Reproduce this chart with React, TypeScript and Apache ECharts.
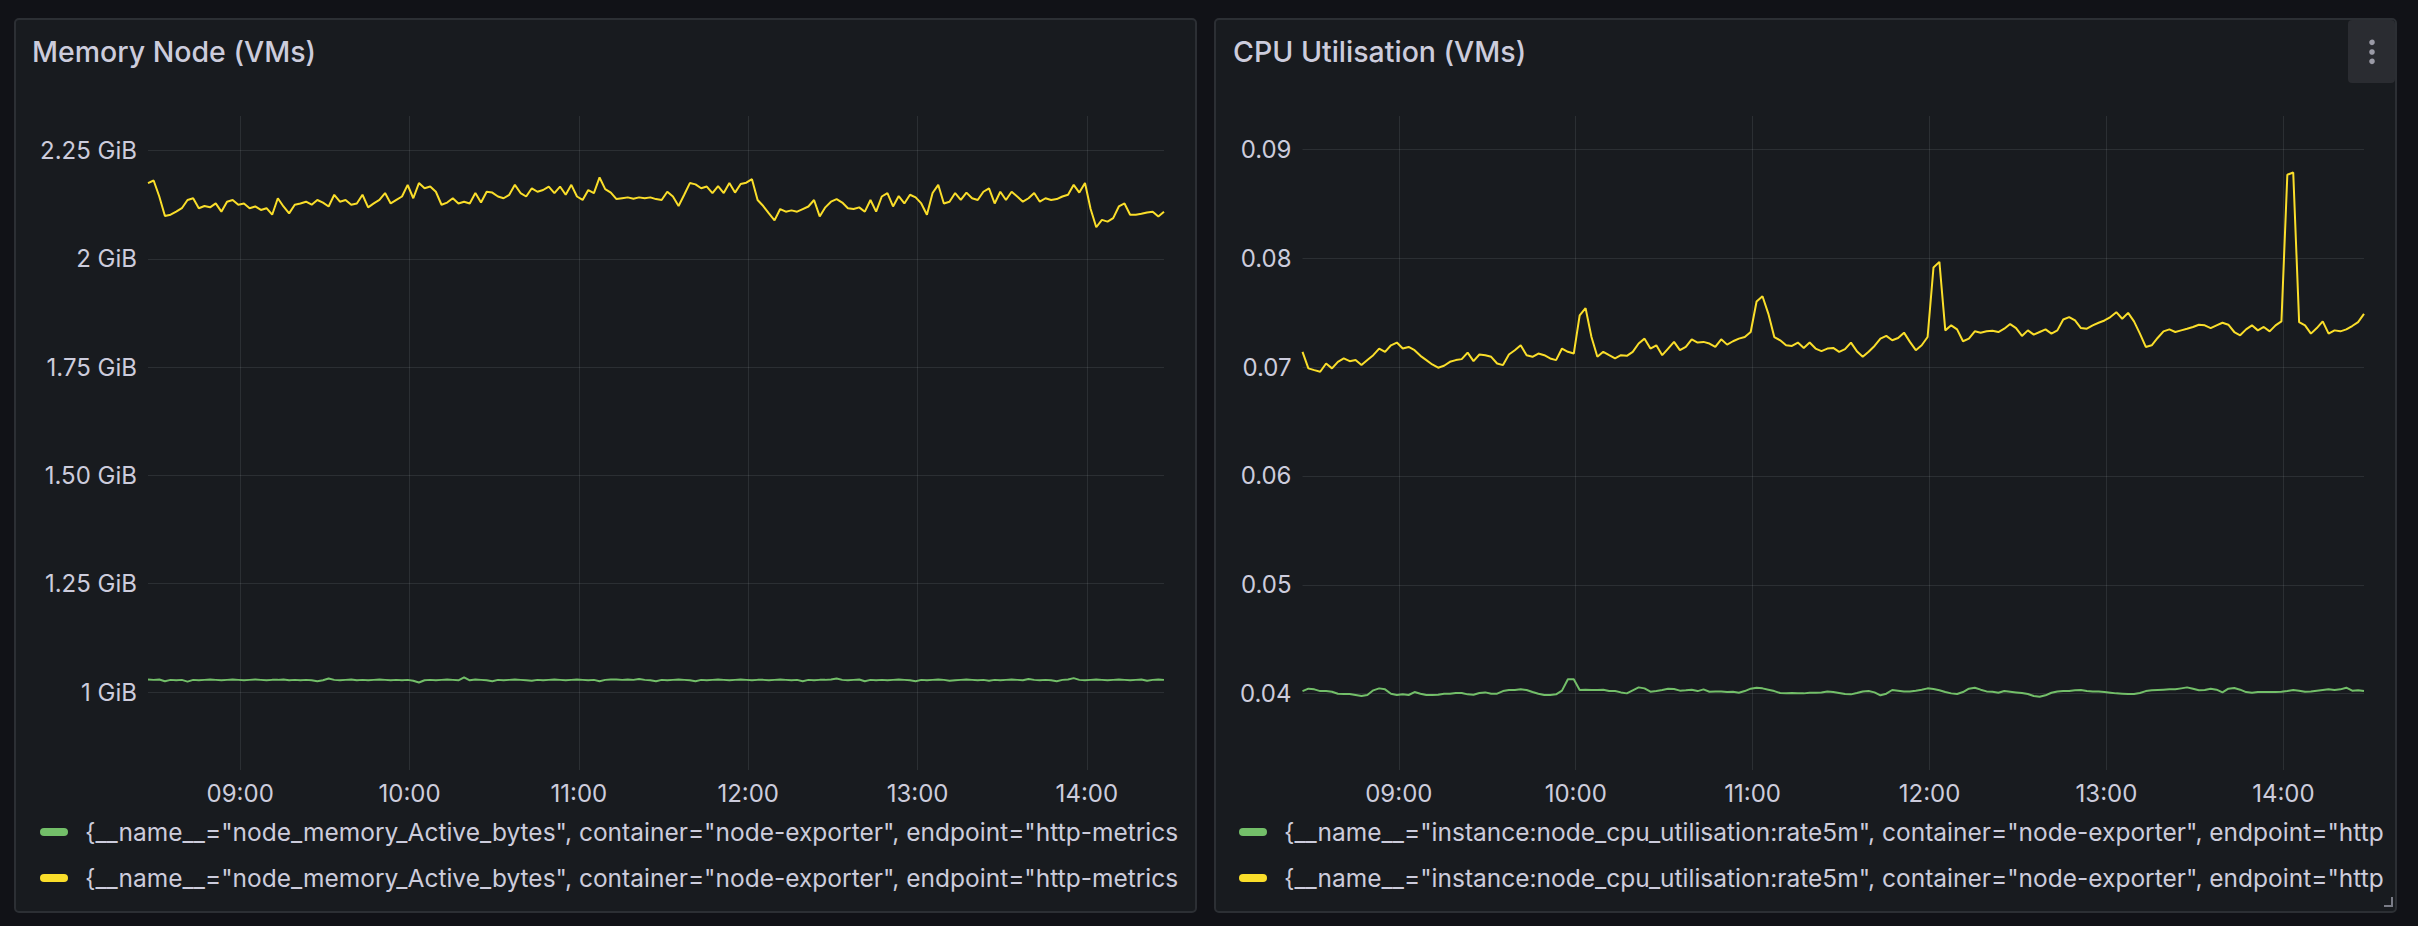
import React, { useEffect, useRef } from "react";
import * as echarts from "echarts";

// ---- time axis (2-minute samples over 6 hours) ----
const START = Date.UTC(2024, 0, 15, 8, 27, 20);
const STEP_MS = 120000;
const END = START + 180 * STEP_MS;

// ---- titles / legends ----
const MEM_TITLE = "Memory Node (VMs)";
const CPU_TITLE = "CPU Utilisation (VMs)";
// visible (clipped) part of the legend labels
const MEM_LEGEND_TEXT = '{__name__="node_memory_Active_bytes", container="node-exporter", endpoint="http-metrics';
const CPU_LEGEND_TEXT = '{__name__="instance:node_cpu_utilisation:rate5m", container="node-exporter", endpoint="http';
// series ids (two instances each)
const MEM_SERIES = ["node_memory_Active_bytes#1", "node_memory_Active_bytes#2"];
const CPU_SERIES = ["instance:node_cpu_utilisation:rate5m#1", "instance:node_cpu_utilisation:rate5m#2"];

// ---- memory (GiB) ----
const memGreen = [
  1.029, 1.028, 1.029, 1.025, 1.028, 1.027, 1.028, 1.024, 1.028, 1.027,
  1.028, 1.029, 1.028, 1.027, 1.028, 1.029, 1.028, 1.027, 1.028, 1.029,
  1.028, 1.027, 1.028, 1.028, 1.029, 1.027, 1.028, 1.027, 1.028, 1.027,
  1.025, 1.027, 1.031, 1.028, 1.027, 1.028, 1.029, 1.027, 1.028, 1.027,
  1.028, 1.029, 1.028, 1.027, 1.028, 1.027, 1.028, 1.026, 1.022, 1.027,
  1.028, 1.027, 1.028, 1.029, 1.028, 1.027, 1.034, 1.027, 1.029, 1.028,
  1.027, 1.025, 1.028, 1.027, 1.028, 1.029, 1.028, 1.027, 1.026, 1.028,
  1.027, 1.028, 1.029, 1.028, 1.027, 1.028, 1.029, 1.028, 1.027, 1.028,
  1.025, 1.028, 1.029, 1.029, 1.028, 1.029, 1.028, 1.030, 1.028, 1.027,
  1.025, 1.028, 1.027, 1.028, 1.029, 1.028, 1.027, 1.025, 1.028, 1.027,
  1.028, 1.029, 1.028, 1.027, 1.028, 1.029, 1.028, 1.027, 1.028, 1.028,
  1.027, 1.028, 1.029, 1.028, 1.027, 1.028, 1.025, 1.028, 1.027, 1.028,
  1.028, 1.029, 1.031, 1.028, 1.027, 1.028, 1.029, 1.025, 1.028, 1.027,
  1.028, 1.027, 1.028, 1.029, 1.028, 1.027, 1.025, 1.028, 1.027, 1.028,
  1.029, 1.028, 1.026, 1.027, 1.028, 1.029, 1.028, 1.027, 1.028, 1.026,
  1.028, 1.027, 1.028, 1.029, 1.028, 1.027, 1.030, 1.028, 1.027, 1.028,
  1.027, 1.025, 1.028, 1.029, 1.032, 1.028, 1.027, 1.028, 1.029, 1.028,
  1.027, 1.028, 1.029, 1.028, 1.027, 1.028, 1.029, 1.026, 1.028, 1.029,
  1.028,
];
const memYellow = [
  2.175, 2.181, 2.144, 2.099, 2.102, 2.109, 2.117, 2.136, 2.140, 2.117,
  2.122, 2.119, 2.128, 2.109, 2.132, 2.136, 2.125, 2.128, 2.117, 2.121,
  2.113, 2.117, 2.102, 2.140, 2.121, 2.105, 2.125, 2.128, 2.132, 2.125,
  2.136, 2.130, 2.121, 2.148, 2.132, 2.136, 2.125, 2.128, 2.148, 2.119,
  2.128, 2.136, 2.152, 2.128, 2.136, 2.144, 2.171, 2.140, 2.175, 2.163,
  2.167, 2.155, 2.125, 2.130, 2.140, 2.128, 2.132, 2.128, 2.152, 2.130,
  2.155, 2.153, 2.144, 2.140, 2.148, 2.171, 2.152, 2.144, 2.163, 2.155,
  2.159, 2.167, 2.152, 2.167, 2.148, 2.171, 2.144, 2.136, 2.159, 2.152,
  2.188, 2.161, 2.153, 2.138, 2.140, 2.142, 2.139, 2.142, 2.140, 2.142,
  2.138, 2.136, 2.155, 2.144, 2.122, 2.148, 2.175, 2.172, 2.163, 2.167,
  2.152, 2.168, 2.152, 2.175, 2.153, 2.173, 2.176, 2.184, 2.136, 2.122,
  2.105, 2.089, 2.115, 2.109, 2.112, 2.109, 2.115, 2.121, 2.136, 2.098,
  2.119, 2.132, 2.138, 2.130, 2.117, 2.115, 2.119, 2.109, 2.136, 2.109,
  2.144, 2.152, 2.121, 2.145, 2.128, 2.148, 2.142, 2.128, 2.102, 2.152,
  2.171, 2.128, 2.132, 2.152, 2.136, 2.153, 2.140, 2.136, 2.155, 2.163,
  2.128, 2.155, 2.136, 2.155, 2.144, 2.132, 2.140, 2.152, 2.132, 2.140,
  2.136, 2.138, 2.144, 2.148, 2.171, 2.153, 2.175, 2.115, 2.073, 2.090,
  2.086, 2.094, 2.121, 2.128, 2.102, 2.102, 2.104, 2.107, 2.109, 2.098,
  2.109,
];

// ---- CPU utilisation ----
const cpuGreen = [
  0.04024, 0.04046, 0.0404, 0.04024, 0.04024, 0.04018, 0.04, 0.03997, 0.03997, 0.03988,
  0.03979, 0.03988, 0.04031, 0.04049, 0.0404, 0.04, 0.03988, 0.03994, 0.03988, 0.04015,
  0.04, 0.03988, 0.03988, 0.03991, 0.04, 0.04, 0.04006, 0.04006, 0.03994, 0.03991,
  0.04006, 0.04012, 0.04, 0.04, 0.04024, 0.04034, 0.04034, 0.0404, 0.04034, 0.04015,
  0.04, 0.03988, 0.03988, 0.03994, 0.04028, 0.04132, 0.04132, 0.04034, 0.04037, 0.04034,
  0.04034, 0.04037, 0.04024, 0.04024, 0.04012, 0.04003, 0.04031, 0.04058, 0.04049, 0.04018,
  0.04024, 0.04034, 0.04046, 0.04043, 0.04028, 0.04031, 0.04037, 0.04024, 0.0404, 0.04018,
  0.04021, 0.04021, 0.04015, 0.04018, 0.04009, 0.04024, 0.04046, 0.04055, 0.04049, 0.04037,
  0.04024, 0.04006, 0.04003, 0.04006, 0.04003, 0.04003, 0.04009, 0.04009, 0.04012, 0.04021,
  0.04015, 0.04006, 0.03997, 0.03994, 0.04006, 0.04021, 0.04024, 0.04012, 0.03985, 0.04,
  0.04034, 0.04028, 0.04021, 0.04021, 0.04028, 0.04037, 0.04049, 0.04043, 0.04031, 0.04015,
  0.04003, 0.03997, 0.04015, 0.04046, 0.04055, 0.04037, 0.04021, 0.04018, 0.04009, 0.04024,
  0.04018, 0.04012, 0.04006, 0.03997, 0.03979, 0.03972, 0.03985, 0.04009, 0.04021, 0.04024,
  0.04024, 0.04031, 0.04034, 0.04024, 0.04021, 0.04021, 0.04015, 0.04009, 0.04003, 0.04,
  0.03997, 0.03997, 0.04006, 0.04024, 0.04031, 0.04034, 0.04037, 0.0404, 0.0404, 0.04049,
  0.04058, 0.04046, 0.04031, 0.04034, 0.04046, 0.04037, 0.04012, 0.04046, 0.04052, 0.04037,
  0.04015, 0.04009, 0.04015, 0.04015, 0.04015, 0.04015, 0.04018, 0.04024, 0.04034, 0.04028,
  0.04018, 0.04021, 0.04028, 0.04034, 0.0404, 0.04034, 0.0404, 0.04055, 0.04028, 0.04031,
  0.04024,
];
const cpuYellow = [
  0.0714, 0.06988, 0.06972, 0.06957, 0.07033, 0.06988, 0.07048, 0.07079, 0.07054, 0.07064,
  0.07018, 0.07064, 0.07109, 0.0717, 0.0714, 0.072, 0.07225, 0.0717, 0.07185, 0.07155,
  0.07103, 0.07064, 0.07024, 0.06994, 0.07012, 0.07048, 0.07064, 0.07073, 0.07133, 0.07054,
  0.07115, 0.07109, 0.07094, 0.07033, 0.07018, 0.07115, 0.07155, 0.072, 0.07109, 0.07094,
  0.07124, 0.07109, 0.07079, 0.07064, 0.0717, 0.0714, 0.07124, 0.07474, 0.07541, 0.07276,
  0.07094, 0.0714, 0.07109, 0.07079, 0.07109, 0.07103, 0.0714, 0.07216, 0.07261, 0.0717,
  0.072, 0.07109, 0.0717, 0.07231, 0.07155, 0.07185, 0.07255, 0.07225, 0.07231, 0.07216,
  0.07185, 0.07255, 0.07206, 0.07237, 0.07261, 0.07276, 0.07322, 0.07602, 0.0765, 0.07489,
  0.07276, 0.07246, 0.072, 0.07194, 0.07225, 0.07176, 0.07225, 0.0717, 0.07146, 0.0717,
  0.07176, 0.0714, 0.07164, 0.07225, 0.07146, 0.07094, 0.0714, 0.07194, 0.07261, 0.07286,
  0.07246, 0.07267, 0.07316, 0.07231, 0.07155, 0.072, 0.07276, 0.07915, 0.07966, 0.07337,
  0.07383, 0.07346, 0.07237, 0.07261, 0.07328, 0.07316, 0.07328, 0.07334, 0.07322, 0.07352,
  0.07395, 0.07358, 0.07286, 0.07337, 0.07298, 0.07322, 0.07346, 0.07307, 0.07337, 0.07437,
  0.07459, 0.07428, 0.07358, 0.07352, 0.07383, 0.07407, 0.07428, 0.07459, 0.07504, 0.07444,
  0.07498, 0.07419, 0.07307, 0.07185, 0.072, 0.07267, 0.07328, 0.07346, 0.07322, 0.07337,
  0.07352, 0.07368, 0.07389, 0.07383, 0.07358, 0.07383, 0.07407, 0.07389, 0.07322, 0.07292,
  0.07346, 0.07383, 0.07337, 0.07368, 0.07328, 0.07383, 0.07419, 0.08766, 0.08787, 0.07413,
  0.07383, 0.07307, 0.07358, 0.07419, 0.07307, 0.07337, 0.07328, 0.07346, 0.07377, 0.07413,
  0.07489,
];

const TEXT = "#ccccdc";
const GRID_LINE = "rgba(240,250,255,0.09)";
const GREEN = "#73bf69";
const YELLOW = "#fade2a";
const FONT = "Inter, 'Noto Sans', sans-serif";

const toPairs = (vals: number[]) => vals.map((v, i) => [START + i * STEP_MS, v]);
const pad = (n: number) => (n < 10 ? "0" + n : String(n));
const timeFmt = (v: number) => {
  const d = new Date(v);
  return pad(d.getUTCHours()) + ":" + pad(d.getUTCMinutes());
};
const memFmt = (v: number) => (Number.isInteger(v) ? String(v) : v.toFixed(2)) + " GiB";
const cpuFmt = (v: number) => v.toFixed(2);

function bgXAxis(gridIndex: number) {
  return {
    type: "time",
    gridIndex,
    min: START,
    max: END,
    minInterval: 3600000,
    maxInterval: 3600000,
    axisLine: { show: false },
    axisTick: { show: false },
    axisLabel: {
      color: TEXT,
      fontSize: 24,
      fontFamily: FONT,
      margin: 11,
      formatter: timeFmt,
      showMinLabel: false,
      showMaxLabel: false,
      hideOverlap: false,
    },
    splitLine: { show: true, showMinLine: false, showMaxLine: false, lineStyle: { color: GRID_LINE, width: 1 } },
  };
}
function dataXAxis(gridIndex: number) {
  return { type: "time", gridIndex, min: START, max: END, show: false, splitLine: { show: false } };
}

export default function App() {
  const ref = useRef<HTMLDivElement>(null);
  useEffect(() => {
    if (!ref.current) return;
    const chart = echarts.init(ref.current, undefined, { renderer: "svg" });
    const legendText = {
      color: TEXT, fontSize: 24.5, lineHeight: 28, fontFamily: FONT, padding: [0, 0, 0, 12],
    };
    const legendIcon = "path://M4,0 H24 A4,4 0 0 1 24,8 H4 A4,4 0 0 1 4,0 Z";
    const option: any = {
      animation: false,
      useUTC: true,
      backgroundColor: "#111217",
      textStyle: { fontFamily: FONT },
      graphic: [
        { type: "rect", z: -10, shape: { x: 15, y: 19, width: 1181, height: 893, r: 4 }, style: { fill: "#181b1f", stroke: "#2c2f34", lineWidth: 2 } },
        { type: "rect", z: -10, shape: { x: 1215, y: 19, width: 1181, height: 893, r: 4 }, style: { fill: "#181b1f", stroke: "#2c2f34", lineWidth: 2 } },
        { type: "text", z: 10, x: 32, y: 51, style: { text: MEM_TITLE, fill: TEXT, font: `500 28.5px ${FONT}`, verticalAlign: "middle" } },
        { type: "text", z: 10, x: 1233, y: 51, style: { text: CPU_TITLE, fill: TEXT, font: `500 28.5px ${FONT}`, verticalAlign: "middle" } },
        { type: "rect", z: 10, shape: { x: 2348, y: 20, width: 47, height: 63, r: 4 }, style: { fill: "#2a2c31" } },
        { type: "circle", z: 11, shape: { cx: 2372, cy: 42.3, r: 2.8 }, style: { fill: "#9a9aa6" } },
        { type: "circle", z: 11, shape: { cx: 2372, cy: 52, r: 2.8 }, style: { fill: "#9a9aa6" } },
        { type: "circle", z: 11, shape: { cx: 2372, cy: 61.3, r: 2.8 }, style: { fill: "#9a9aa6" } },
        { type: "polyline", z: 11, shape: { points: [[2392, 897], [2392, 906], [2384, 906]] }, style: { stroke: "rgba(204,204,220,0.55)", lineWidth: 2, fill: null } },
      ],
      grid: [
        { left: 148, top: 116, width: 1016, height: 654 },
        { left: 148, top: 150.6, width: 1016, height: 541.4 },
        { left: 1302.5, top: 116, width: 1061.5, height: 654 },
        { left: 1302.5, top: 149.3, width: 1061.5, height: 544.4 },
      ],
      xAxis: [bgXAxis(0), dataXAxis(1), bgXAxis(2), dataXAxis(3)],
      yAxis: [
        { type: "value", gridIndex: 0, min: 0, max: 1, show: false, splitLine: { show: false } },
        {
          type: "value", gridIndex: 1, min: 1, max: 2.25, interval: 0.25,
          axisLine: { show: false }, axisTick: { show: false },
          axisLabel: { color: TEXT, fontSize: 24, fontFamily: FONT, margin: 11, formatter: memFmt },
          splitLine: { show: true, lineStyle: { color: GRID_LINE, width: 1 } },
        },
        { type: "value", gridIndex: 2, min: 0, max: 1, show: false, splitLine: { show: false } },
        {
          type: "value", gridIndex: 3, min: 0.04, max: 0.09, interval: 0.01,
          axisLine: { show: false }, axisTick: { show: false },
          axisLabel: { color: TEXT, fontSize: 24, fontFamily: FONT, margin: 11, formatter: cpuFmt },
          splitLine: { show: true, lineStyle: { color: GRID_LINE, width: 1 } },
        },
      ],
      legend: [
        {
          orient: "vertical", left: 40, top: 818, padding: 0, itemGap: 18,
          itemWidth: 28, itemHeight: 8, selectedMode: false, icon: legendIcon,
          data: MEM_SERIES, formatter: () => MEM_LEGEND_TEXT, textStyle: legendText,
        },
        {
          orient: "vertical", left: 1239, top: 818, padding: 0, itemGap: 18,
          itemWidth: 28, itemHeight: 8, selectedMode: false, icon: legendIcon,
          data: CPU_SERIES, formatter: () => CPU_LEGEND_TEXT, textStyle: legendText,
        },
      ],
      series: [
        { name: MEM_SERIES[0], type: "line", xAxisIndex: 1, yAxisIndex: 1, data: toPairs(memGreen), showSymbol: false, clip: false, color: GREEN, lineStyle: { width: 2, color: GREEN } },
        { name: MEM_SERIES[1], type: "line", xAxisIndex: 1, yAxisIndex: 1, data: toPairs(memYellow), showSymbol: false, clip: false, color: YELLOW, lineStyle: { width: 2, color: YELLOW } },
        { name: CPU_SERIES[0], type: "line", xAxisIndex: 3, yAxisIndex: 3, data: toPairs(cpuGreen), showSymbol: false, clip: false, color: GREEN, lineStyle: { width: 2, color: GREEN } },
        { name: CPU_SERIES[1], type: "line", xAxisIndex: 3, yAxisIndex: 3, data: toPairs(cpuYellow), showSymbol: false, clip: false, color: YELLOW, lineStyle: { width: 2, color: YELLOW } },
      ],
    };
    chart.setOption(option);
    return () => chart.dispose();
  }, []);
  return (
    <div
      ref={ref}
      style={{ position: "absolute", left: 0, top: 0, width: 2418, height: 926, background: "#111217" }}
    />
  );
}
